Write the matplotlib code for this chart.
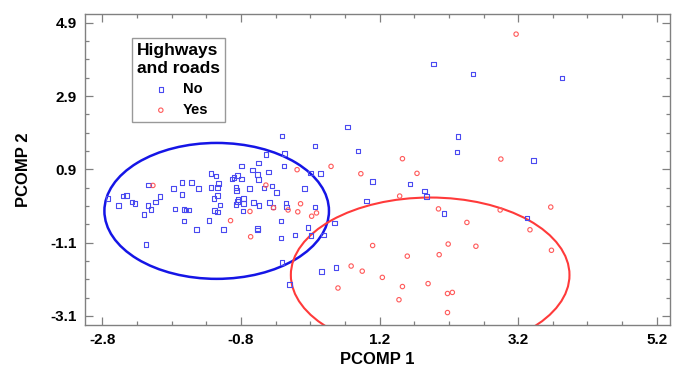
import numpy as np
import matplotlib
matplotlib.use("Agg")
import matplotlib.pyplot as plt
from matplotlib.patches import Ellipse
from matplotlib.ticker import MultipleLocator, FixedLocator

plt.rcParams['font.family'] = ['Liberation Sans', 'DejaVu Sans']

# PCA scores, no highways/roads
no_x = [-0.17, -0.44, 0.89, -0.79, -0.55, -0.18, -0.63, -0.56, -0.40, -1.23,
        -1.16, -0.85, -0.90, -0.93, -0.79, -0.55, 0.20, 0.35, 1.10, -2.13,
        -1.65, -1.51, -1.77, -1.41, -1.23, -1.14, -1.12, -0.87, -0.86, -0.68,
        -0.47, -0.35, -0.29, 0.12, -2.50, -2.45, -1.97, -1.65, -1.14, -1.19,
        -0.84, -0.85, -0.76, -2.72, -2.37, -2.33, -2.03, -2.57, -2.14, -2.10,
        -1.75, -1.62, -1.59, -1.55, -1.10, -0.87, -0.76, -0.62, -0.54, -0.39,
        -0.34, -0.15, -0.14, -1.18, -1.14, -0.77, -2.20, -1.62, -1.26, -0.22,
        0.27, 0.55, 1.01, -1.44, -1.05, -0.56, -0.56, 0.17, -0.22, -0.02,
        0.21, 0.39, -2.17, -0.21, -0.10, 0.36, 0.57, 0.74, -0.21, 0.27,
        1.98, 2.55, 3.83, 2.33, 2.32, 3.42, 1.64, 1.85, 1.88, 2.13, 3.33]
no_y = [1.34, 1.31, 1.40, 0.99, 1.07, 0.99, 0.88, 0.76, 0.83, 0.78,
        0.72, 0.73, 0.67, 0.64, 0.64, 0.62, 0.80, 0.78, 0.56, 0.47,
        0.54, 0.54, 0.37, 0.37, 0.40, 0.40, 0.51, 0.41, 0.32, 0.37,
        0.39, 0.44, 0.26, 0.37, 0.17, 0.19, 0.15, 0.22, 0.19, 0.10,
        0.08, 0.02, 0.10, 0.10, 0.01, -0.04, 0.01, -0.09, -0.09, -0.20,
        -0.18, -0.19, -0.21, -0.21, -0.07, -0.06, -0.04, -0.01, -0.09, -0.01,
        -0.13, -0.02, -0.13, -0.23, -0.27, -0.24, -0.34, -0.51, -0.49, -0.51,
        -0.13, -0.56, 0.03, -0.75, -0.75, -0.72, -0.76, -0.69, -0.98, -0.89,
        -0.91, -0.89, -1.15, -1.65, -2.24, -1.89, -1.78, 2.06, 1.81, 1.54,
        3.77, 3.50, 3.39, 1.79, 1.37, 1.14, 0.50, 0.31, 0.16, -0.30, -0.43]

# PCA scores, with highways/roads
yes_x = [-2.07, 0.50, 0.01, 0.93, -0.44, 0.06, -0.33, -0.12, -0.67, 0.02,
         0.22, 0.29, -0.95, -0.66, 1.10, 0.79, 0.95, 0.60, 3.17, 1.53,
         2.95, 1.74, 1.49, 2.05, 2.94, 3.67, 2.46, 3.37, 2.19, 2.59,
         3.68, 1.60, 2.06, 1.24, 1.53, 1.90, 1.48, 2.18, 2.25, 2.18]
yes_y = [0.46, 0.98, 0.89, 0.78, 0.47, -0.04, -0.15, -0.21, -0.25, -0.26,
         -0.38, -0.29, -0.50, -0.94, -1.18, -1.74, -1.88, -2.34, 4.59, 1.19,
         1.18, 0.79, 0.17, -0.18, -0.21, -0.13, -0.55, -0.75, -1.14, -1.20,
         -1.31, -1.47, -1.43, -2.05, -2.30, -2.22, -2.66, -2.49, -2.46, -3.01]

# confidence ellipses: center, width, height
no_ell = ((-1.15, -0.235), 3.24, 3.71)
yes_ell = ((1.93, -1.985), 4.02, 4.23)

xticks = [-2.8, -0.8, 1.2, 3.2, 5.2]
yticks = [-3.1, -1.1, 0.9, 2.9, 4.9]

fig = plt.figure(figsize=(6.73, 3.72), dpi=100)
ax = fig.add_axes([0.1263, 0.1263, 0.8692, 0.8361])

ax.scatter(no_x, no_y, marker='s', s=11, facecolors='none',
           edgecolors='#4a4af0', linewidths=0.8, label='No', zorder=3)
ax.scatter(yes_x, yes_y, marker='o', s=10, facecolors='none',
           edgecolors='#ff5a5a', linewidths=0.8, label='Yes', zorder=3)

ax.add_patch(Ellipse(no_ell[0], no_ell[1], no_ell[2], fill=False,
                     edgecolor='#1515e6', lw=1.8, zorder=2))
ax.add_patch(Ellipse(yes_ell[0], yes_ell[1], yes_ell[2], fill=False,
                     edgecolor='#ff3a3a', lw=1.5, zorder=2))

ax.set_xlim(-3.05, 5.39)
ax.set_ylim(-3.35, 5.14)

ax.xaxis.set_major_locator(FixedLocator(xticks))
ax.yaxis.set_major_locator(FixedLocator(yticks))
ax.xaxis.set_minor_locator(MultipleLocator(0.5, offset=0.2))
ax.yaxis.set_minor_locator(MultipleLocator(0.5, offset=0.4))
ax.set_xticklabels([str(t) for t in xticks], fontweight='bold', fontsize=11)
ax.set_yticklabels([str(t) for t in yticks], fontweight='bold', fontsize=11)
ax.tick_params(which='both', direction='in', top=True, right=True,
               color='#808080', width=0.9)
ax.tick_params(which='major', length=6, pad=6)
ax.tick_params(which='minor', length=3)
for sp in ax.spines.values():
    sp.set_color('#808080')
    sp.set_linewidth(1.0)

ax.set_xlabel('PCOMP 1', fontweight='bold', fontsize=12, labelpad=3)
ax.set_ylabel('PCOMP 2', fontweight='bold', fontsize=12, labelpad=14)

leg = ax.legend(title='Highways\nand roads', loc='upper left',
                bbox_to_anchor=(0.068, 0.945), fancybox=False,
                edgecolor='#808080', prop={'weight': 'bold', 'size': 10.5},
                handletextpad=0.7, borderpad=0.35, labelspacing=0.45,
                handlelength=1.6, markerscale=1.0)
leg.get_title().set_fontweight('bold')
leg.get_title().set_fontsize(12.5)
leg.get_frame().set_linewidth(1.0)

fig.savefig('out.png', dpi=100)
